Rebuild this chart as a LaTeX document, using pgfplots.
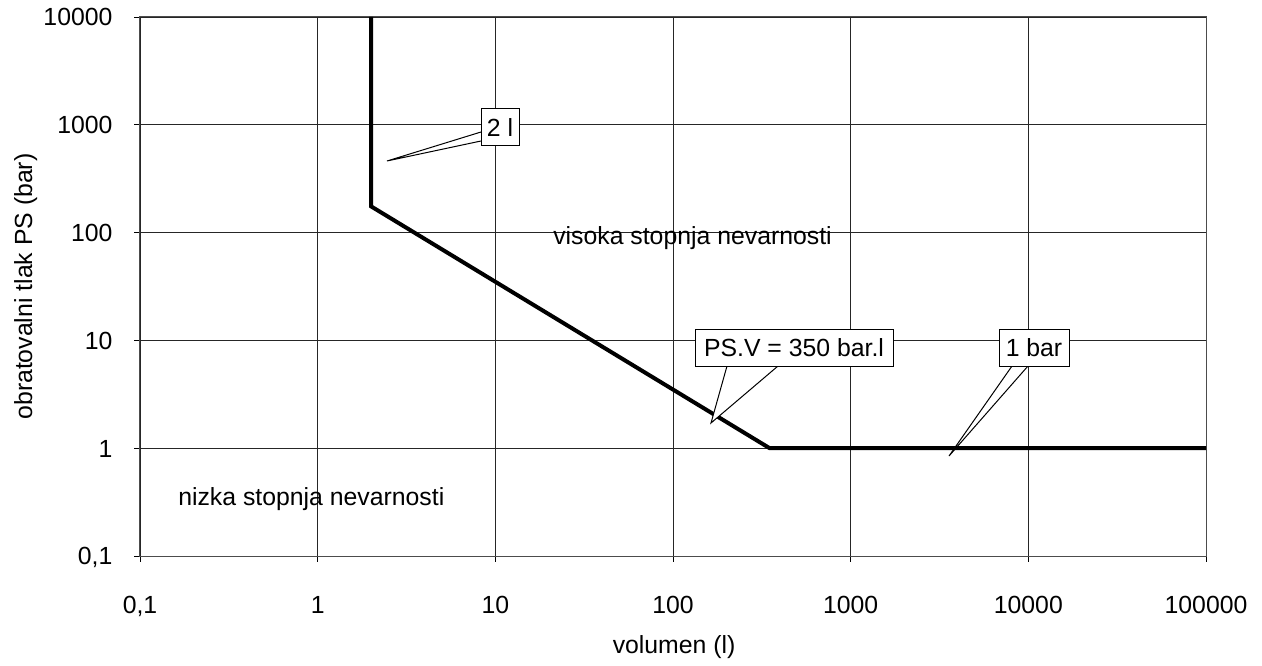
\documentclass[border=0pt]{standalone}
\usepackage{pgfplots}
\pgfplotsset{compat=1.18}
\usepackage{fontspec}
\setmainfont{Liberation Sans}

\begin{document}
\begin{tikzpicture}[font=\fontsize{18.6}{22}\selectfont]
% page = 1262 x 666 px, 1 px = 0.75 pt, origin top left
\path[use as bounding box] (0,0) rectangle (946.5pt,-499.5pt);

\begin{axis}[
    at={(105pt,-417pt)}, anchor=south west,
    scale only axis,
    width=799.5pt, height=404.25pt,
    font=\fontsize{18.6}{22}\selectfont,
    xmode=log, ymode=log,
    xmin=0.1, xmax=100000,
    ymin=0.1, ymax=10000,
    xtick={0.1,1,10,100,1000,10000,100000},
    xticklabels={{\mbox{0,1}},\mbox{1},\mbox{10},\mbox{100},\mbox{1000},\mbox{10000},\mbox{100000}},
    ytick={0.1,1,10,100,1000,10000},
    yticklabels={{\mbox{0,1}},\mbox{1},\mbox{10},\mbox{100},\mbox{1000},\mbox{10000}},
    xminorticks=false, yminorticks=false,
    xtick pos=bottom, ytick pos=left,
    tick align=outside,
    major tick length=4.5pt,
    tick style={black, line width=0.6pt},
    grid=major,
    major grid style={black!85, line width=0.6pt},
    axis line style={black!70, line width=0.75pt},
    xticklabel style={anchor=base, inner sep=0pt, yshift=-39pt},
    yticklabel style={anchor=base east, inner sep=0pt, xshift=-16pt, yshift=-6.6pt},
    xlabel={volumen (l)},
    ylabel={obratovalni tlak PS (bar)},
    xlabel style={at={(axis description cs:0.501,-0.1818)}, anchor=base, inner sep=0pt},
    ylabel style={at={(axis description cs:-0.1013,0.5)}, anchor=base, inner sep=0pt},
]
\addplot[black, line width=3pt, line join=miter] coordinates {
    (2,10000) (2,175) (350,1) (100000,1)
};
\end{axis}

\begin{scope}[x=0.75pt, y=-0.75pt]
  \node[anchor=base west, inner sep=0pt] at (553,245) {visoka stopnja nevarnosti};
  \node[anchor=base west, inner sep=0pt] at (178,505) {nizka stopnja nevarnosti};

  % callout "2 l"
  \filldraw[fill=white, draw=black, line width=0.75pt] (481,132) -- (387,161) -- (481,141);
  \filldraw[fill=white, draw=black, line width=0.75pt] (481,109) rectangle (519,146);
  \node at (500,127.5) {2 l};

  % callout "PS.V = 350 bar.l"
  \filldraw[fill=white, draw=black, line width=0.75pt] (727,366) -- (711,423) -- (778,366);
  \filldraw[fill=white, draw=black, line width=0.75pt] (695,329) rectangle (893,366);
  \node at (794,347.5) {PS.V = 350 bar.l};

  % callout "1 bar"
  \filldraw[fill=white, draw=black, line width=0.75pt] (1012,366) -- (949,456) -- (1028,366);
  \filldraw[fill=white, draw=black, line width=0.75pt] (999,329) rectangle (1069,366);
  \node at (1034,347.5) {1 bar};
\end{scope}
\end{tikzpicture}
\end{document}
